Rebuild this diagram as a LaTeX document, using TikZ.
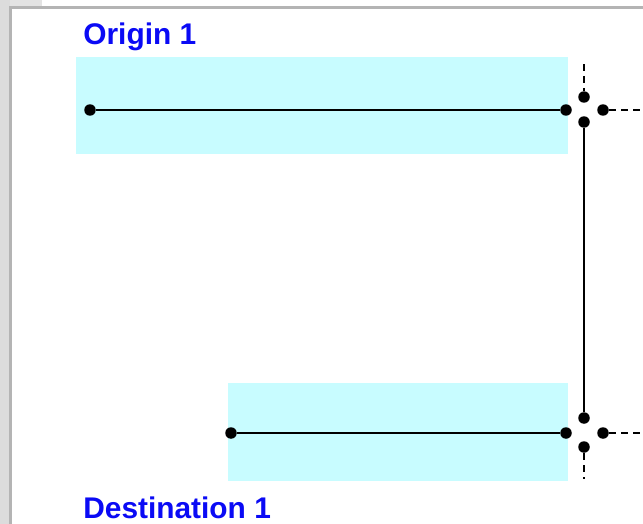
\documentclass[tikz,border=0pt]{standalone}
\usepackage{fontspec}
\usepackage{xcolor}
\usepackage{tikz}
\newfontfamily\tagfont{Liberation Sans}
\definecolor{bandCyan}{HTML}{C8FCFF}
\definecolor{tagBlue}{HTML}{0A0AF5}
\definecolor{frameGray}{HTML}{DCDCDC}
\definecolor{frameLine}{HTML}{B4B4B4}
\tikzset{
  band/.style={rectangle,fill=bandCyan,draw=none,anchor=north west,inner sep=0pt},
  dot/.style={circle,fill=black,draw=none,inner sep=0pt,minimum size=0.23cm},
  wire/.style={line width=1.2pt,black},
  stub/.style={line width=1.2pt,black,dash pattern=on 0.14cm off 0.1cm},
  tag/.style={font=\tagfont\bfseries\fontsize{17}{20}\selectfont,text=tagBlue,
    anchor=base west,inner sep=0pt}
}

\begin{document}
\begin{tikzpicture}[x=0.02cm, y=-0.02cm]
\useasboundingbox (0,0) rectangle (643,524);
% window frame
\fill[white] (0,0) rectangle (643,524);
\fill[frameGray] (0,0) rectangle (10,524);
\fill[frameGray!80] (10,0) rectangle (42,7);
\draw[frameLine, line width=1.2pt] (10.5,524) -- (10.5,7.5) -- (643,7.5);

% cyan bands
\node[band, minimum width=9.84cm, minimum height=1.94cm] (topband) at (76,57) {};
\node[band, minimum width=6.8cm, minimum height=1.96cm] (botband) at (228,383) {};

% labels
\node[tag] (origin) at (83,45) {Origin 1};
\node[tag] (dest) at (83,518) {Destination 1};

% origin run
\node[dot] (o1a) at (90,110) {};
\node[dot] (o1b) at (566,110) {};
% destination run
\node[dot] (d1a) at (231,433) {};
\node[dot] (d1b) at (566,433) {};

% junction dots
\node[dot] (jtn) at (584,97) {};
\node[dot] (jts) at (584,122) {};
\node[dot] (jte) at (603,110) {};
\node[dot] (jbn) at (584,418) {};
\node[dot] (jbs) at (584,447) {};
\node[dot] (jbe) at (603,433) {};

% loose ends of the dashed stubs
\coordinate (ttop) at (584,64);
\coordinate (tright) at (643,110);
\coordinate (bbot) at (584,479);
\coordinate (bright) at (643,433);

\draw[wire] (o1a) -- (o1b);
\draw[wire] (d1a) -- (d1b);
\draw[wire] (jts) -- (jbn);
\draw[stub] (ttop) -- (jtn);
\draw[stub] (jte) -- (tright);
\draw[stub] (jbs) -- (bbot);
\draw[stub] (jbe) -- (bright);
\end{tikzpicture}
\end{document}
